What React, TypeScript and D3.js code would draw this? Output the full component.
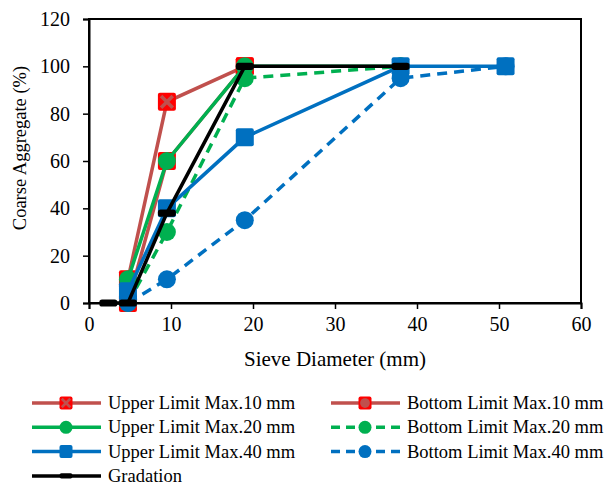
import React, { useEffect, useRef } from 'react';
import * as d3 from 'd3';

const sieveSizes = [2.36, 4.75, 9.5, 19, 38, 50.8];

const upper10 = [null, 10, 85, 100, null, null];
const bottom10 = [null, 0, 60, 100, null, null];
const upper20 = [null, 10, 60, 100, 100, null];
const bottom20 = [null, 0, 30, 95, 100, null];
const upper40 = [null, 5, 40, 70, 100, 100];
const bottom40 = [null, 0, 10, 35, 95, 100];
const gradation = [0, 0, 38, 100, 100, null];

const xTicks = [0, 10, 20, 30, 40, 50, 60];
const yTicks = [0, 20, 40, 60, 80, 100, 120];

const seriesList = [
  { name: 'Upper Limit Max.10 mm', values: upper10, color: '#C0504D', dash: false, marker: 'xsquare' },
  { name: 'Bottom Limit Max.10 mm', values: bottom10, color: '#C0504D', dash: false, marker: 'osquare' },
  { name: 'Upper Limit Max.20 mm', values: upper20, color: '#00B050', dash: false, marker: 'circle' },
  { name: 'Bottom Limit Max.20 mm', values: bottom20, color: '#00B050', dash: true, marker: 'circle' },
  { name: 'Upper Limit Max.40 mm', values: upper40, color: '#0070C0', dash: false, marker: 'square' },
  { name: 'Bottom Limit Max.40 mm', values: bottom40, color: '#0070C0', dash: true, marker: 'circle' },
  { name: 'Gradation', values: gradation, color: '#000000', dash: false, marker: 'dash' },
];

const font = 'Liberation Serif, Times New Roman, serif';

// k = half size of the marker
const drawMarker = (g, type, color, x, y, k) => {
  if (type === 'xsquare' || type === 'osquare') {
    g.append('rect').attr('x', x - k).attr('y', y - k).attr('width', 2 * k).attr('height', 2 * k)
      .attr('rx', 2).attr('fill', '#FF0000');
    if (type === 'xsquare') {
      const c = k * 0.65;
      g.append('path').attr('d', `M${x - c},${y - c}L${x + c},${y + c}M${x - c},${y + c}L${x + c},${y - c}`)
        .attr('stroke', color).attr('stroke-width', k * 0.4);
    } else {
      g.append('circle').attr('cx', x).attr('cy', y).attr('r', k * 0.75).attr('fill', color);
    }
  } else if (type === 'circle') {
    g.append('circle').attr('cx', x).attr('cy', y).attr('r', k).attr('fill', color);
  } else if (type === 'square') {
    g.append('rect').attr('x', x - k).attr('y', y - k).attr('width', 2 * k).attr('height', 2 * k)
      .attr('rx', 2).attr('fill', color);
  } else if (type === 'dash') {
    g.append('rect').attr('x', x - k).attr('y', y - k * 0.4).attr('width', 2 * k).attr('height', k * 0.8)
      .attr('rx', k * 0.3).attr('fill', color);
  }
};

const App = () => {
  const svgRef = useRef();

  useEffect(() => {
    const svg = d3.select(svgRef.current);
    svg.selectAll('*').remove();
    const left = 89, right = 581, top = 19, bottom = 303;

    const x = d3.scaleLinear().domain([0, 60]).range([left, right]);
    const y = d3.scaleLinear().domain([0, 120]).range([bottom, top]);

    svg.append('rect').attr('x', left).attr('y', top).attr('width', right - left).attr('height', bottom - top)
      .attr('fill', 'none').attr('stroke', '#000').attr('stroke-width', 2);

    const xAxis = svg.append('g').attr('transform', `translate(0,${bottom})`)
      .call(d3.axisBottom(x).tickValues(xTicks).tickSize(6).tickPadding(8));
    const yAxis = svg.append('g').attr('transform', `translate(${left},0)`)
      .call(d3.axisLeft(y).tickValues(yTicks).tickSize(6).tickPadding(13));
    [xAxis, yAxis].forEach(a => {
      a.attr('font-family', font).attr('font-size', 20);
      a.select('.domain').attr('stroke-width', 2);
      a.selectAll('line').attr('stroke-width', 1.5);
      a.selectAll('text').attr('font-family', font).attr('font-size', 20).attr('fill', '#000');
    });

    svg.append('text').attr('x', 335).attr('y', 366).attr('text-anchor', 'middle')
      .attr('font-family', font).attr('font-size', 21).text('Sieve Diameter (mm)');
    svg.append('text').attr('transform', `translate(26,148) rotate(-90)`)
      .attr('text-anchor', 'middle').attr('font-family', font).attr('font-size', 18.5)
      .text('Coarse Aggregate (%)');

    const plot = svg.append('g');
    seriesList.forEach(s => {
      const pts = sieveSizes.map((d, i) => [d, s.values[i]]).filter(p => p[1] !== null);
      const line = d3.line().x(p => x(p[0])).y(p => y(p[1]));
      plot.append('path').attr('d', line(pts)).attr('fill', 'none').attr('stroke', s.color)
        .attr('stroke-width', 3.5).attr('stroke-dasharray', s.dash ? '10,7' : null);
      pts.forEach(p => drawMarker(plot, s.marker, s.color, x(p[0]), y(p[1]), 9));
    });

    const legend = svg.append('g');
    seriesList.forEach((s, i) => {
      const col = i % 2, row = Math.floor(i / 2);
      const lx = col === 0 ? 32 : 331;
      const ly = 403 + row * 24.3;
      legend.append('line').attr('x1', lx).attr('x2', lx + 69).attr('y1', ly).attr('y2', ly)
        .attr('stroke', s.color).attr('stroke-width', 3.5).attr('stroke-dasharray', s.dash ? '9,6' : null);
      drawMarker(legend, s.marker, s.color, lx + 34, ly, 6.5);
      legend.append('text').attr('x', lx + 76).attr('y', ly).attr('dy', '0.33em')
        .attr('font-family', font).attr('font-size', 18.5).text(s.name);
    });
  }, []);

  return <svg ref={svgRef} width={606} height={485} style={{ position: 'absolute', left: 0, top: 0, background: '#fff' }} />;
};

export default App;
